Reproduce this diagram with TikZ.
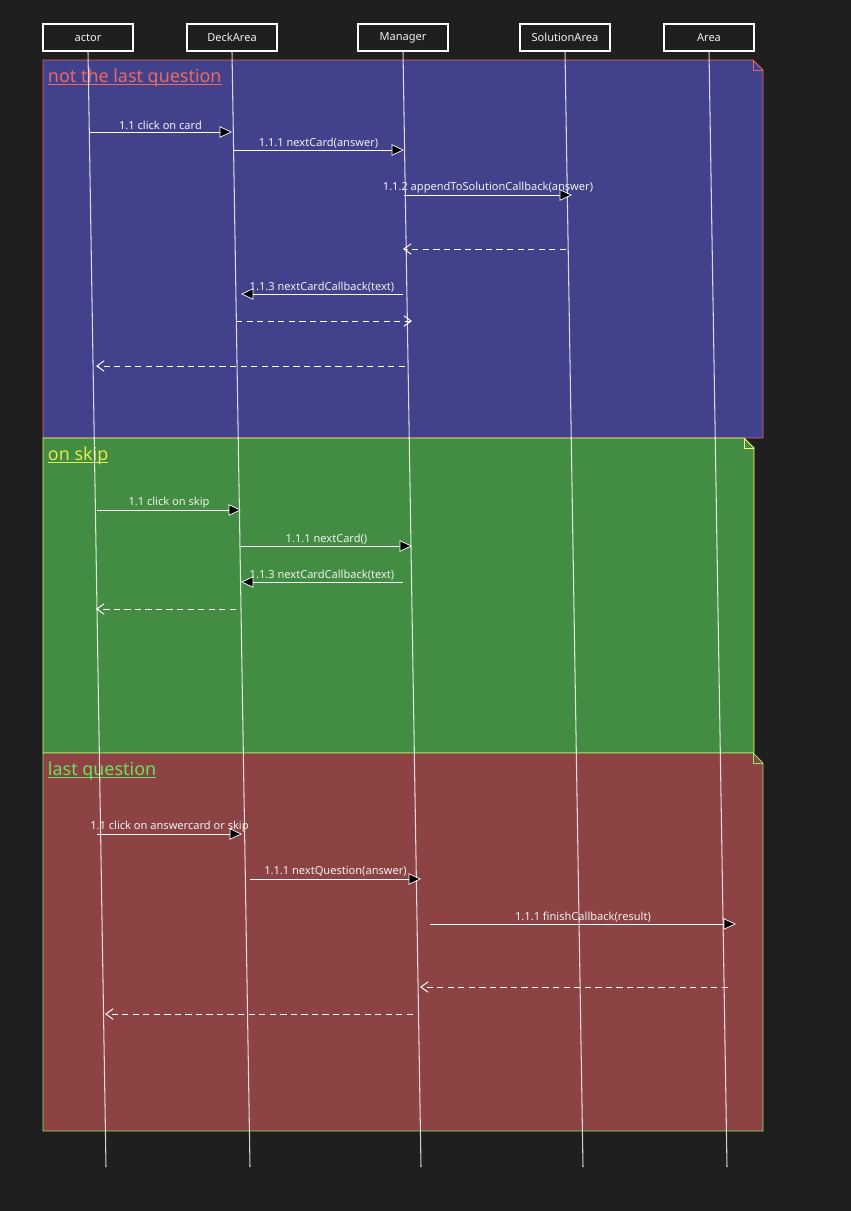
\documentclass[tikz,border=0pt]{standalone}
\usepackage{fontspec}
\setmainfont{Noto Sans}
\usetikzlibrary{arrows.meta}
\definecolor{bgdark}{RGB}{31,31,31}
\definecolor{loopblue}{RGB}{66,65,140}
\definecolor{skipgreen}{RGB}{67,141,67}
\definecolor{lastred}{RGB}{141,67,67}
\definecolor{edgered}{RGB}{234,100,100}
\definecolor{edgeyellow}{RGB}{255,255,102}
\definecolor{edgegreen}{RGB}{140,232,110}
\definecolor{titlered}{RGB}{234,107,102}
\definecolor{titleyellow}{RGB}{232,232,80}
\definecolor{titlegreen}{RGB}{102,228,92}

\begin{document}
\begin{tikzpicture}[
    x=0.02cm, y=-0.02cm,
    every node/.style={font=\fontsize{6.3}{7.5}\selectfont, text=white!94!black},
    head/.style={draw=white, fill=bgdark, line width=0.6pt,
                 minimum width=1.8cm, minimum height=0.54cm, inner sep=0pt},
    frame/.style={line width=0.55pt},
    title/.style={font=\fontsize{10.2}{12}\selectfont, anchor=base west,
                  inner sep=0pt, outer sep=0pt},
    life/.style={draw=white, opacity=0.8, line width=0.6pt},
    call/.style={draw=white, line width=0.55pt,
                 -{Triangle[length=7pt, width=6.5pt, line width=0.4pt, fill=black]}},
    reply/.style={draw=white, line width=0.55pt, dash pattern=on 3.6pt off 2.4pt,
                  -{Straight Barb[length=4.2pt, width=6pt]}},
    msg/.style={above, inner sep=1pt},
]
\useasboundingbox (0,0) rectangle (851,1211);
\fill[bgdark] (0,0) rectangle (851,1211);

% combined fragments (note shape with folded corner)
\filldraw[frame, fill=loopblue, draw=edgered]
   (43,60) -- (753,60) -- (763,70) -- (763,438) -- (43,438) -- cycle;
\draw[frame, edgered] (753,60) -- (753,70) -- (763,70);
\filldraw[frame, fill=skipgreen, draw=edgeyellow]
   (43,438) -- (744,438) -- (754,448) -- (754,753) -- (43,753) -- cycle;
\draw[frame, edgeyellow] (744,438) -- (744,448) -- (754,448);
\filldraw[frame, fill=lastred, draw=edgegreen]
   (43,753) -- (753,753) -- (763,763) -- (763,1131) -- (43,1131) -- cycle;
\draw[frame, edgegreen] (753,753) -- (753,763) -- (763,763);

% fragment titles, underlined
\node[title, text=titlered] (tnotlast) at (48,82) {not the last question};
\draw[titlered, line width=0.5pt] ([yshift=-1.2pt]tnotlast.base west) -- ([yshift=-1.2pt]tnotlast.base east);
\node[title, text=titleyellow] (tskip) at (48,460) {on skip};
\draw[titleyellow, line width=0.5pt] ([yshift=-1.2pt]tskip.base west) -- ([yshift=-1.2pt]tskip.base east);
\node[title, text=titlegreen] (tlast) at (48,775) {last question};
\draw[titlegreen, line width=0.5pt] ([yshift=-1.2pt]tlast.base west) -- ([yshift=-1.2pt]tlast.base east);

% participants
\node[head] (actor)    at (88,37.5)  {actor};
\node[head] (deck)     at (232,37.5) {DeckArea};
\node[head] (manager)  at (403,37.5) {Manager};
\node[head] (solution) at (565,37.5) {SolutionArea};
\node[head] (area)     at (709,37.5) {Area};

% lifelines (they drift a little to the right)
\coordinate (actorEnd)    at (106,1167);
\coordinate (deckEnd)     at (250,1167);
\coordinate (managerEnd)  at (421,1167);
\coordinate (solutionEnd) at (583,1167);
\coordinate (areaEnd)     at (727,1167);
\draw[life] (actor.south) -- (actorEnd);
\draw[life] (deck.south) -- (deckEnd);
\draw[life] (manager.south) -- (managerEnd);
\draw[life] (solution.south) -- (solutionEnd);
\draw[life] (area.south) -- (areaEnd);

% not the last question
\coordinate (a1) at (89,132);  \coordinate (a2) at (232,132);
\draw[call] (a1) -- node[msg]{1.1 click on card} (a2);
\coordinate (a3) at (233,150); \coordinate (a4) at (404,150);
\draw[call] (a3) -- node[msg]{1.1.1 nextCard(answer)} (a4);
\coordinate (a5) at (404,195); \coordinate (a6) at (572,195);
\draw[call] (a5) -- node[msg]{1.1.2 appendToSolutionCallback(answer)} (a6);
\coordinate (a7) at (566,249); \coordinate (a8) at (403,249);
\draw[reply] (a7) -- (a8);
\coordinate (a9) at (403,294); \coordinate (a10) at (241,294);
\draw[call] (a9) -- node[msg]{1.1.3 nextCardCallback(text)} (a10);
\coordinate (a11) at (236,321); \coordinate (a12) at (412,321);
\draw[reply] (a11) -- (a12);
\coordinate (a13) at (405,366); \coordinate (a14) at (96,366);
\draw[reply] (a13) -- (a14);

% on skip
\coordinate (b1) at (97,510);  \coordinate (b2) at (241,510);
\draw[call] (b1) -- node[msg]{1.1 click on skip} (b2);
\coordinate (b3) at (241,546); \coordinate (b4) at (412,546);
\draw[call] (b3) -- node[msg]{1.1.1 nextCard()} (b4);
\coordinate (b5) at (403,582); \coordinate (b6) at (241,582);
\draw[call] (b5) -- node[msg]{1.1.3 nextCardCallback(text)} (b6);
\coordinate (b7) at (236,609); \coordinate (b8) at (96,609);
\draw[reply] (b7) -- (b8);

% last question
\coordinate (c1) at (97,834);  \coordinate (c2) at (242,834);
\draw[call] (c1) -- node[msg]{1.1 click on answercard or skip} (c2);
\coordinate (c3) at (250,879); \coordinate (c4) at (421,879);
\draw[call] (c3) -- node[msg]{1.1.1 nextQuestion(answer)} (c4);
\coordinate (c5) at (430,924); \coordinate (c6) at (736,924);
\draw[call] (c5) -- node[msg]{1.1.1 finishCallback(result)} (c6);
\coordinate (c7) at (728,987); \coordinate (c8) at (420,987);
\draw[reply] (c7) -- (c8);
\coordinate (c9) at (413,1014); \coordinate (c10) at (105,1014);
\draw[reply] (c9) -- (c10);
\end{tikzpicture}
\end{document}
